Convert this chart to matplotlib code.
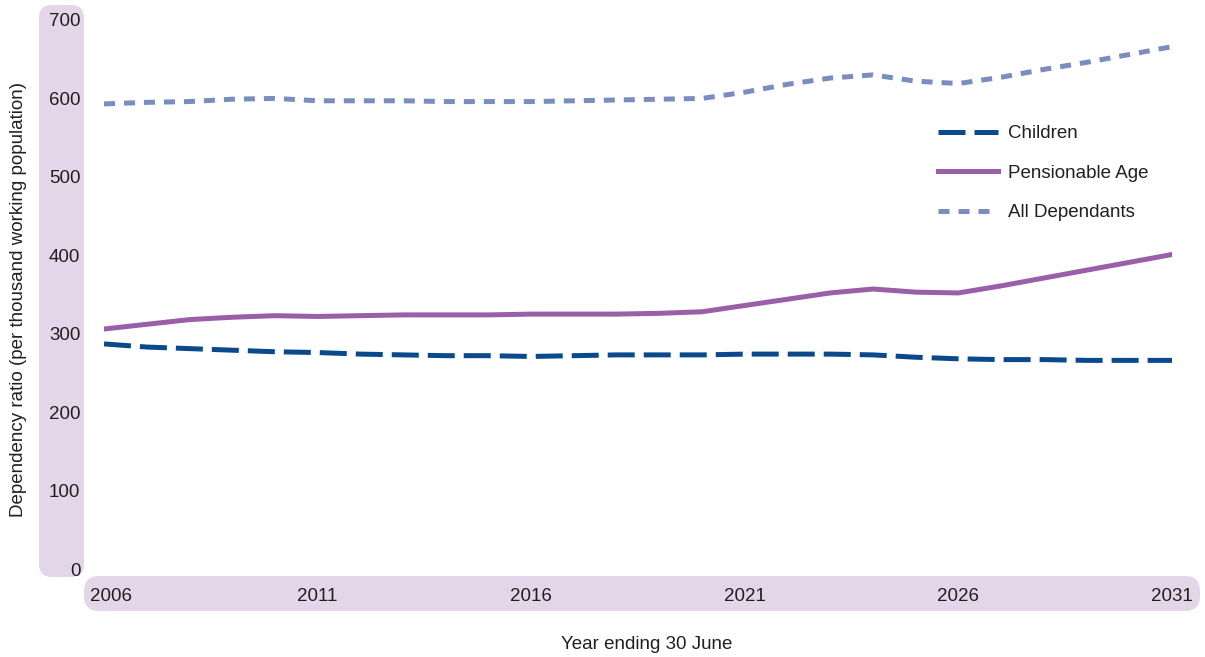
import matplotlib
matplotlib.use('Agg')
import matplotlib.pyplot as plt
import matplotlib.transforms as mtransforms
from matplotlib.patches import FancyBboxPatch

years = list(range(2006, 2032))
children = [287, 283, 281, 279, 277, 276, 274, 273, 272, 272, 271, 272, 273, 273, 273,
            274, 274, 274, 273, 270, 268, 267, 267, 266, 266, 266]
pension = [306, 312, 318, 321, 323, 322, 323, 324, 324, 324, 325, 325, 325, 326, 328,
           336, 344, 352, 357, 353, 352, 361, 371, 381, 391, 401]
alldep = [593, 595, 596, 599, 600, 597, 597, 597, 596, 596, 596, 597, 598, 599, 600,
          608, 618, 626, 630, 622, 619, 627, 637, 646, 656, 666]
xticks = [2006, 2011, 2016, 2021, 2026, 2031]
yticks = [0, 100, 200, 300, 400, 500, 600, 700]

c_child = '#0a4a8c'
c_pens = '#9b5fa8'
c_all = '#7a8cc0'
strip = '#e3d6e8'
txt = '#231f20'

plt.rcParams['font.family'] = ['Liberation Sans', 'DejaVu Sans']

fig = plt.figure(figsize=(12.05, 6.57), dpi=100)
ax = fig.add_axes([104 / 1205, 88 / 657, 1068 / 1205, 549 / 657])
ax.set_zorder(2)

# lavender strips behind the tick labels (pixel coords)
ident = mtransforms.IdentityTransform()
fig.patches.append(FancyBboxPatch((39, 80), 45, 572, boxstyle='round,pad=0,rounding_size=13',
                                  transform=ident, fc=strip, ec='none', zorder=-1))
fig.patches.append(FancyBboxPatch((84, 46), 1116, 35, boxstyle='round,pad=0,rounding_size=15',
                                  transform=ident, fc=strip, ec='none', zorder=-1))

lw = 3.6
ax.plot(years, children, color=c_child, lw=lw, dashes=(5.4, 1.8), label='Children')
ax.plot(years, pension, color=c_pens, lw=lw, label='Pensionable Age')
ax.plot(years, alldep, color=c_all, lw=lw, dashes=(2.2, 1.8), label='All Dependants')

ax.set_xlim(2006, 2031)
ax.set_ylim(0, 700)
ax.set_xticks(xticks)
ax.set_yticks(yticks)
ax.tick_params(axis='both', length=0, labelsize=13.5, labelcolor=txt)
ax.tick_params(axis='x', pad=14)
ax.tick_params(axis='y', pad=17)
for s in ax.spines.values():
    s.set_visible(False)
ax.patch.set_alpha(0)

ax.set_xlabel('Year ending 30 June', fontsize=13.5, color=txt)
ax.xaxis.set_label_coords(0.508, -0.122)
ax.set_ylabel('Dependency ratio (per thousand working population)', fontsize=13.5, color=txt)
ax.yaxis.set_label_coords(-0.072, 0.49)

leg = ax.legend(loc='upper left', bbox_to_anchor=(938 / 1205, 1 - 125 / 657),
                bbox_transform=fig.transFigure, frameon=False, fontsize=13.5,
                handlelength=3.2, handletextpad=0.55, labelspacing=1.2,
                borderpad=0, borderaxespad=0)
for t in leg.get_texts():
    t.set_color(txt)

# nudge the first year label right so it sits inside the strip
lab0 = ax.get_xticklabels()[0]
lab0.set_transform(lab0.get_transform() + mtransforms.ScaledTranslation(5 / 72, 0, fig.dpi_scale_trans))

fig.savefig('out.png', dpi=100)
